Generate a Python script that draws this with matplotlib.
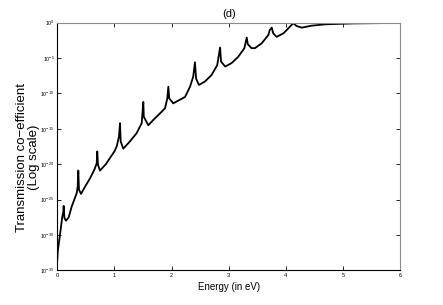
import matplotlib
matplotlib.use("Agg")
import matplotlib.pyplot as plt
import numpy as np

# Energy (eV) and log10 of transmission coefficient
energy = [0.000, 0.010, 0.047, 0.088, 0.105, 0.112, 0.125, 0.152,
          0.200, 0.252, 0.340, 0.357, 0.368, 0.380, 0.415,
          0.485, 0.573, 0.648, 0.690, 0.700, 0.713, 0.748,
          0.850, 1.000, 1.040, 1.080, 1.098, 1.110, 1.156,
          1.270, 1.390, 1.478, 1.506, 1.515, 1.594,
          1.680, 1.800, 1.886, 1.926, 1.944, 1.960, 2.030,
          2.236, 2.324, 2.380, 2.410, 2.430, 2.480,
          2.587, 2.700, 2.800, 2.850, 2.867, 2.940,
          3.054, 3.170, 3.275, 3.317, 3.335, 3.400,
          3.460, 3.580, 3.695, 3.720, 3.755, 3.780, 3.840,
          3.960, 4.045, 4.130, 4.190, 4.280,
          4.455, 4.690, 5.200, 6.000]
log_T = [-33.5, -32.2, -30.0, -27.4, -26.8, -25.9, -27.6, -28.0,
         -27.5, -26.0, -24.1, -23.2, -20.9, -23.6, -24.2,
         -23.2, -22.0, -20.8, -19.9, -18.2, -20.1, -20.9,
         -20.0, -18.2, -17.5, -16.1, -14.2, -16.8, -17.8,
         -16.8, -15.6, -14.2, -11.2, -13.3, -14.5,
         -13.75, -12.8, -12.1, -10.7, -9.05, -10.7, -11.4,
         -10.5, -9.05, -7.6, -5.6, -7.9, -8.8,
         -8.3, -7.4, -6.0, -3.5, -5.5, -6.2,
         -5.7, -4.8, -3.6, -2.1, -3.05, -3.6,
         -3.6, -2.9, -1.74, -1.03, -0.70, -1.5, -2.0,
         -1.5, -0.8, -0.08, -0.47, -0.70,
         -0.42, -0.23, -0.10, -0.03]

x_ticks = [0, 1, 2, 3, 4, 5, 6]
y_ticks = [1e-35, 1e-30, 1e-25, 1e-20, 1e-15, 1e-10, 1e-5, 1e0]
y_tick_labels = [r"$10^{-35}$", r"$10^{-30}$", r"$10^{-25}$", r"$10^{-20}$",
                 r"$10^{-15}$", r"$10^{-10}$", r"$10^{-5}$", r"$10^{0}$"]

plt.rcParams['font.family'] = ['Liberation Sans', 'DejaVu Sans']
plt.rcParams['mathtext.fontset'] = 'custom'
plt.rcParams['mathtext.rm'] = 'Liberation Sans'
plt.rcParams['mathtext.it'] = 'Liberation Sans'

fig = plt.figure(figsize=(4.43, 3.05), dpi=100)
ax = fig.add_axes([0.1293, 0.1138, 0.903 - 0.1293, 0.9256 - 0.1138])

T = [10.0 ** v for v in log_T]
ax.semilogy(energy, T, color='black', lw=1.3)

ax.set_xlim(0, 6)
ax.set_ylim(1e-35, 1e0)
ax.set_xticks(x_ticks)
ax.set_xticklabels([str(v) for v in x_ticks], fontsize=4)
ax.set_yticks(y_ticks)
ax.set_yticklabels(y_tick_labels, fontsize=3.8)
ax.yaxis.set_minor_locator(matplotlib.ticker.NullLocator())
ax.tick_params(direction='in', length=3, width=0.6, top=True, right=True,
               pad=2, colors='black')

for side in ['left', 'bottom']:
    ax.spines[side].set_color('black')
    ax.spines[side].set_linewidth(0.8)
for side in ['top', 'right']:
    ax.spines[side].set_color('#8a8a8a')
    ax.spines[side].set_linewidth(0.8)

ax.set_title("(d)", fontsize=8, pad=4)
ax.set_xlabel("Energy (in eV)", fontsize=7, labelpad=3)
fig.text(28 / 443, 1 - 157 / 305, "Transmission co\u2212efficient\n(Log scale)",
         rotation=90, ha='center', va='center', multialignment='center',
         fontsize=9.5, linespacing=0.95)

fig.savefig("out.png", dpi=100)
